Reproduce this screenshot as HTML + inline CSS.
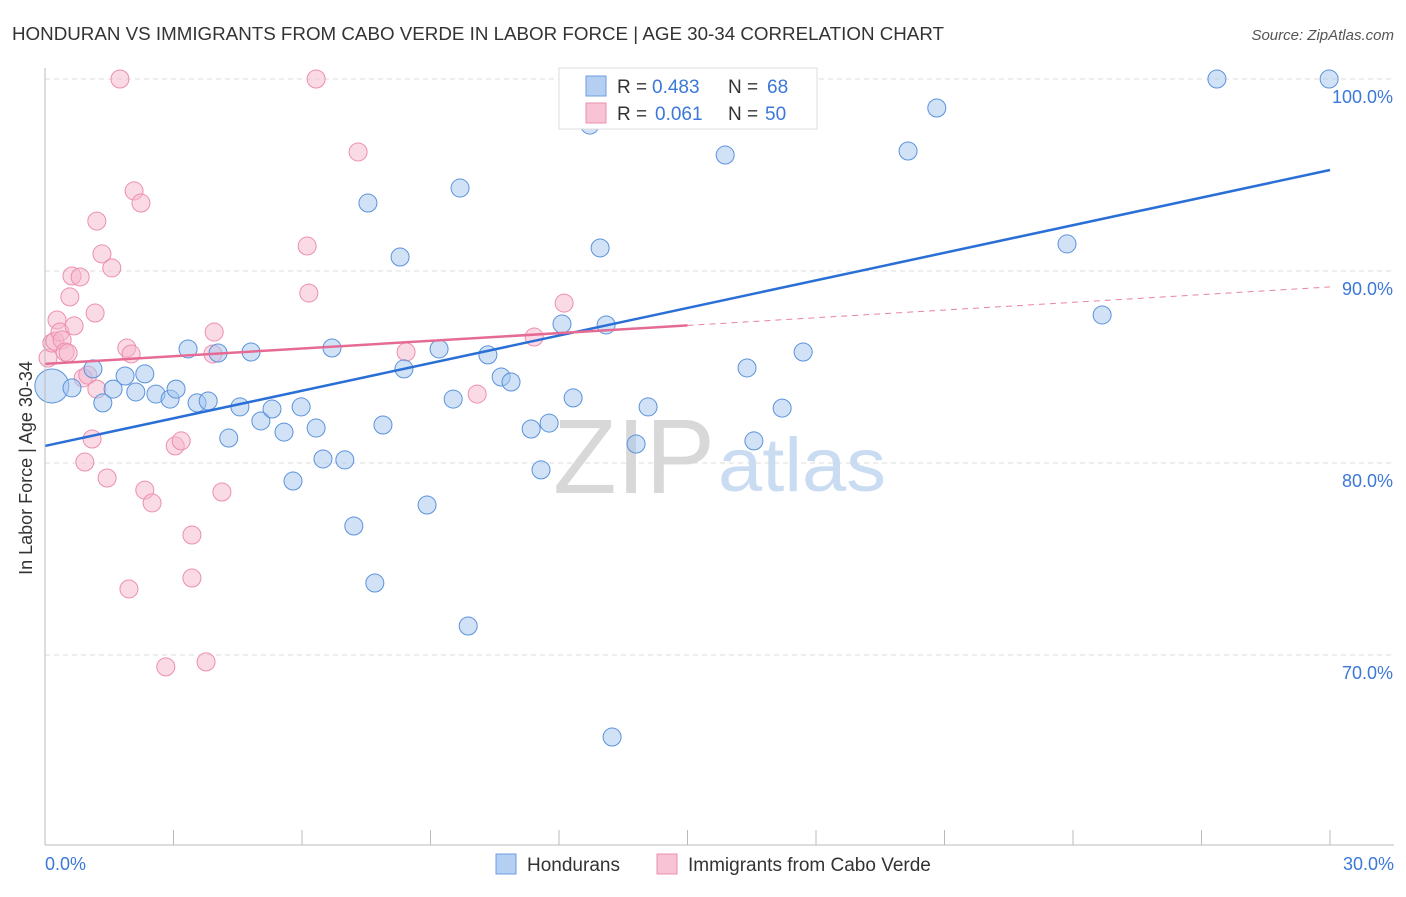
<!DOCTYPE html>
<html><head><meta charset="utf-8"><style>
body{margin:0;background:#fff;font-family:"Liberation Sans",sans-serif;}
svg text{font-family:"Liberation Sans",sans-serif;}
</style></head><body>
<svg width="1406" height="892" viewBox="0 0 1406 892">
<text x="12" y="40" font-size="18" fill="#333" textLength="932" lengthAdjust="spacingAndGlyphs">HONDURAN VS IMMIGRANTS FROM CABO VERDE IN LABOR FORCE | AGE 30-34 CORRELATION CHART</text>
<text x="1394" y="40" font-size="15" fill="#555" font-style="italic" text-anchor="end">Source: ZipAtlas.com</text>
<g id="grid"></g>
<text x="553" y="493" font-size="106" fill="#d8d8d8" font-family="Liberation Serif,serif" textLength="162" lengthAdjust="spacingAndGlyphs">ZIP</text>
<text x="718" y="491" font-size="76" fill="#c9dcf2" textLength="168" lengthAdjust="spacingAndGlyphs">atlas</text>
<g id="pts"></g>
<g id="trend"></g>
<line x1="45" y1="68" x2="45" y2="845" stroke="#bbb"/>
<line x1="45" y1="845" x2="1394" y2="845" stroke="#bbb"/>
<text x="20" y="456" font-size="18" fill="#333" transform="rotate(-90 32 456)" text-anchor="middle">In Labor Force | Age 30-34</text>
<text x="45" y="870" font-size="18" fill="#3b78d8">0.0%</text>
<text x="1394" y="870" font-size="18" fill="#3b78d8" text-anchor="end">30.0%</text>
<g>
<rect x="559" y="68" width="258" height="61" fill="#fff" stroke="#ddd"/>
<rect x="586" y="76" width="20" height="20" fill="#b5cff2" stroke="#6c9de0"/>
<rect x="586" y="103" width="20" height="20" fill="#f8c3d4" stroke="#e892ad"/>
<text x="617" y="93" font-size="19" fill="#333">R =</text>
<text x="652" y="93" font-size="19" fill="#3b78d8">0.483</text>
<text x="728" y="93" font-size="19" fill="#333">N =</text>
<text x="767" y="93" font-size="19" fill="#3b78d8">68</text>
<text x="617" y="120" font-size="19" fill="#333">R =</text>
<text x="655" y="120" font-size="19" fill="#3b78d8">0.061</text>
<text x="728" y="120" font-size="19" fill="#333">N =</text>
<text x="765" y="120" font-size="19" fill="#3b78d8">50</text>
</g>
<g>
<rect x="496" y="854" width="20" height="20" fill="#b5cff2" stroke="#6c9de0"/>
<text x="527" y="871" font-size="19" fill="#333">Hondurans</text>
<rect x="657" y="854" width="20" height="20" fill="#f8c3d4" stroke="#e892ad"/>
<text x="688" y="871" font-size="19" fill="#333">Immigrants from Cabo Verde</text>
</g>
</svg>
<script>
const blueX=[0.16,0.63,1.12,1.35,1.59,1.87,2.12,2.33,2.59,2.92,3.06,3.34,3.55,3.81,4.04,4.29,4.55,4.81,5.04,5.30,5.58,5.79,5.98,6.33,6.49,6.70,7.00,7.21,7.54,7.70,7.89,8.29,8.38,8.92,9.20,9.53,9.69,9.88,10.34,10.65,10.88,11.35,11.58,11.77,12.07,12.33,12.72,12.96,13.10,13.24,13.80,14.08,14.66,15.88,15.97,16.39,16.55,17.21,17.70,20.15,20.82,23.86,24.68,27.36,29.98];
const blueY=[84.01,83.91,84.90,83.13,83.85,84.53,83.70,84.64,83.59,83.33,83.85,85.94,83.13,83.23,85.73,81.30,82.92,85.78,82.19,82.81,81.61,79.06,82.92,81.82,80.21,85.99,80.16,76.72,93.54,73.75,81.98,90.73,84.90,77.81,85.94,83.33,94.32,71.51,85.63,84.48,84.22,81.77,79.64,82.08,87.24,83.39,97.60,91.20,87.19,65.73,80.99,82.92,99.95,96.04,99.06,84.95,81.15,82.86,85.78,96.25,98.49,91.41,87.71,100,100];
const pinkX=[0.07,0.16,0.23,0.28,0.35,0.40,0.47,0.54,0.58,0.63,0.68,0.82,0.89,0.93,1.00,1.10,1.17,1.21,1.21,1.33,1.45,1.56,1.75,1.91,1.96,2.01,2.08,2.24,2.33,2.50,2.82,3.04,3.18,3.43,3.43,3.76,3.92,3.95,4.13,6.12,6.16,6.33,7.31,8.43,10.09,11.42,12.12];
const pinkY=[85.47,86.25,86.35,87.45,86.82,86.41,85.78,85.73,88.65,89.74,87.14,89.69,84.43,80.05,84.58,81.25,87.81,83.85,92.60,90.89,79.22,90.16,100,85.99,73.44,85.68,94.17,93.54,78.59,77.92,69.38,80.89,81.15,76.25,74.01,69.64,85.68,86.82,78.49,91.30,88.85,100,96.20,85.78,83.59,86.56,88.33];
const yTicks=[100,90,80,70];
const blueTrend=[80.89,95.26];
const pinkTrend=[85.16,89.17];
const pinkSolidEnd=15.0;
const NS='http://www.w3.org/2000/svg';
const xs=v=>45+v/30*1285;
const ys=v=>79+(100-v)*19.2;
function mk(tag,attrs,parent){const e=document.createElementNS(NS,tag);for(const k in attrs)e.setAttribute(k,attrs[k]);parent.appendChild(e);return e;}
const grid=document.getElementById('grid');
yTicks.forEach(t=>{
 const l=mk('line',{x1:45,x2:1394,y1:ys(t),y2:ys(t),stroke:'#ddd','stroke-dasharray':'5,4'},grid);
 
 
 const tx=mk('text',{x:1393,y:ys(t)+24,'font-size':18,fill:'#3b78d8','text-anchor':'end'},grid);
 tx.textContent=t.toFixed(1)+'%';
 
 
});
for(let i=1;i<=10;i++){
 const l=mk('line',{x1:xs(i*3),x2:xs(i*3),y1:830,y2:845,stroke:'#bbb'},grid);
 
 
}
const pts=document.getElementById('pts');
pinkX.forEach((x,i)=>{
 const c=mk('circle',{cx:xs(x),cy:ys(pinkY[i]),r:9,fill:'rgba(246,182,203,0.5)',stroke:'#ec8fae','stroke-width':1},pts);
 
 
});
blueX.forEach((x,i)=>{
 const c=mk('circle',{cx:xs(x),cy:ys(blueY[i]),r:i===0?17:9,fill:'rgba(164,198,240,0.5)',stroke:'#5b92dc','stroke-width':1},pts);
 
 
});
const tr=document.getElementById('trend');
const bl=mk('line',{x1:xs(0),y1:ys(blueTrend[0]),x2:xs(30),y2:ys(blueTrend[1]),stroke:'#2a6fd6','stroke-width':2.5},tr);


const pe=pinkTrend[0]+(pinkTrend[1]-pinkTrend[0])*pinkSolidEnd/30;
const pl=mk('line',{x1:xs(0),y1:ys(pinkTrend[0]),x2:xs(pinkSolidEnd),y2:ys(pe),stroke:'#e56b95','stroke-width':2.5},tr);


const pd=mk('line',{x1:xs(pinkSolidEnd),y1:ys(pe),x2:xs(30),y2:ys(pinkTrend[1]),stroke:'#e8849f','stroke-width':1,'stroke-dasharray':'6,5'},tr);


</script>
</body></html>
